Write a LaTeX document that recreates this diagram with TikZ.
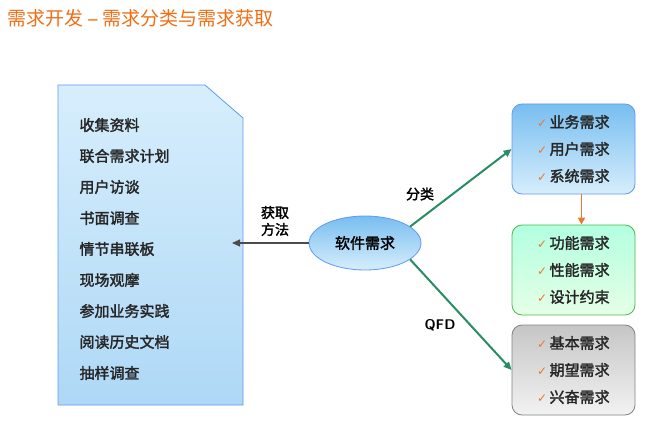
\documentclass[tikz,border=0pt]{standalone}
\usepackage{fontspec}
\newfontfamily\cjk{Noto Sans CJK SC}[AutoFakeBold=2]
\usetikzlibrary{arrows.meta,shapes.geometric}
\definecolor{ttl}{RGB}{240,110,20}
\definecolor{grn}{RGB}{40,140,100}
\definecolor{chk}{RGB}{235,120,50}
\definecolor{lb}{RGB}{120,190,240}
\definecolor{llb}{RGB}{215,238,252}
\begin{document}
\begin{tikzpicture}[x=1pt,y=-1pt,
  txt/.style={font=\cjk\bfseries\fontsize{15}{18}\selectfont,text=black!85,anchor=west},
  cat/.style={draw=#1!60!black!70, rounded corners=10pt, minimum width=123pt, minimum height=90pt, line width=0.8pt},
  garrow/.style={-{Triangle[length=8pt,width=7pt]},grn,line width=2pt}]
\useasboundingbox (0,0) rectangle (648,425);
\node[anchor=west,text=ttl,font=\cjk\fontsize{19}{22}\selectfont] (title) at (4,18) {需求开发 \textbf{–} 需求分类与需求获取};
% left document
\draw[draw=lb!80!blue,line width=0.8pt,top color=llb,bottom color=lb!60]
  (58,85) -- (205,85) -- (243,118) -- (243,405) -- (58,405) -- cycle;
\foreach \t [count=\i] in {收集资料,联合需求计划,用户访谈,书面调查,情节串联板,现场观摩,参加业务实践,阅读历史文档,抽样调查}
  \node[txt] (l\i) at (76,{125+31*(\i-1)}) {\t};
% center
\node[ellipse,draw=lb!80!blue,line width=0.8pt,top color=lb,bottom color=llb,minimum width=112pt,minimum height=54pt,font=\cjk\bfseries\fontsize{15}{18}\selectfont] (c) at (365,243) {软件需求};
\coordinate (tip) at (232,243);
\draw[-{Triangle[length=8pt,width=7pt]},black!70,line width=1.2pt] (c) -- (tip);
\node[font=\cjk\bfseries\fontsize{14}{17}\selectfont,align=center] (m) at (275,221) {获取\\方法};
\node[font=\cjk\bfseries\fontsize{14}{17}\selectfont] (fl) at (420,194) {分类};
\node[font=\sffamily\bfseries\fontsize{14}{17}\selectfont] (qfd) at (440,325) {QFD};
% boxes
\node[cat=blue,draw=lb!80!blue,top color=lb,bottom color=llb] (b1) at (573.5,149) {};
\node[cat=green,top color=green!40!cyan!30,bottom color=green!10] (b2) at (573.5,270) {};
\node[cat=gray,top color=gray!45,bottom color=gray!10] (b3) at (573.5,370) {};
\foreach \b/\a/\bb/\cc in {b1/业务需求/用户需求/系统需求,b2/功能需求/性能需求/设计约束,b3/基本需求/期望需求/兴奋需求}{
  \node[txt] at ([xshift=-40pt,yshift=27pt]\b.center) {\textcolor{chk}{\fontspec{DejaVu Sans}\fontsize{12}{14}\selectfont ✓}\,\a};
  \node[txt] at ([xshift=-40pt]\b.center) {\textcolor{chk}{\fontspec{DejaVu Sans}\fontsize{12}{14}\selectfont ✓}\,\bb};
  \node[txt] at ([xshift=-40pt,yshift=-27pt]\b.center) {\textcolor{chk}{\fontspec{DejaVu Sans}\fontsize{12}{14}\selectfont ✓}\,\cc};
}
\draw[garrow] (c.20) -- (b1.west);
\draw[garrow] (c.-20) -- (b3.west);
\draw[-{Triangle[length=7pt,width=7pt]},chk,line width=1.8pt] ([xshift=8pt]b1.south) -- ([xshift=8pt]b2.north);
\end{tikzpicture}
\end{document}
